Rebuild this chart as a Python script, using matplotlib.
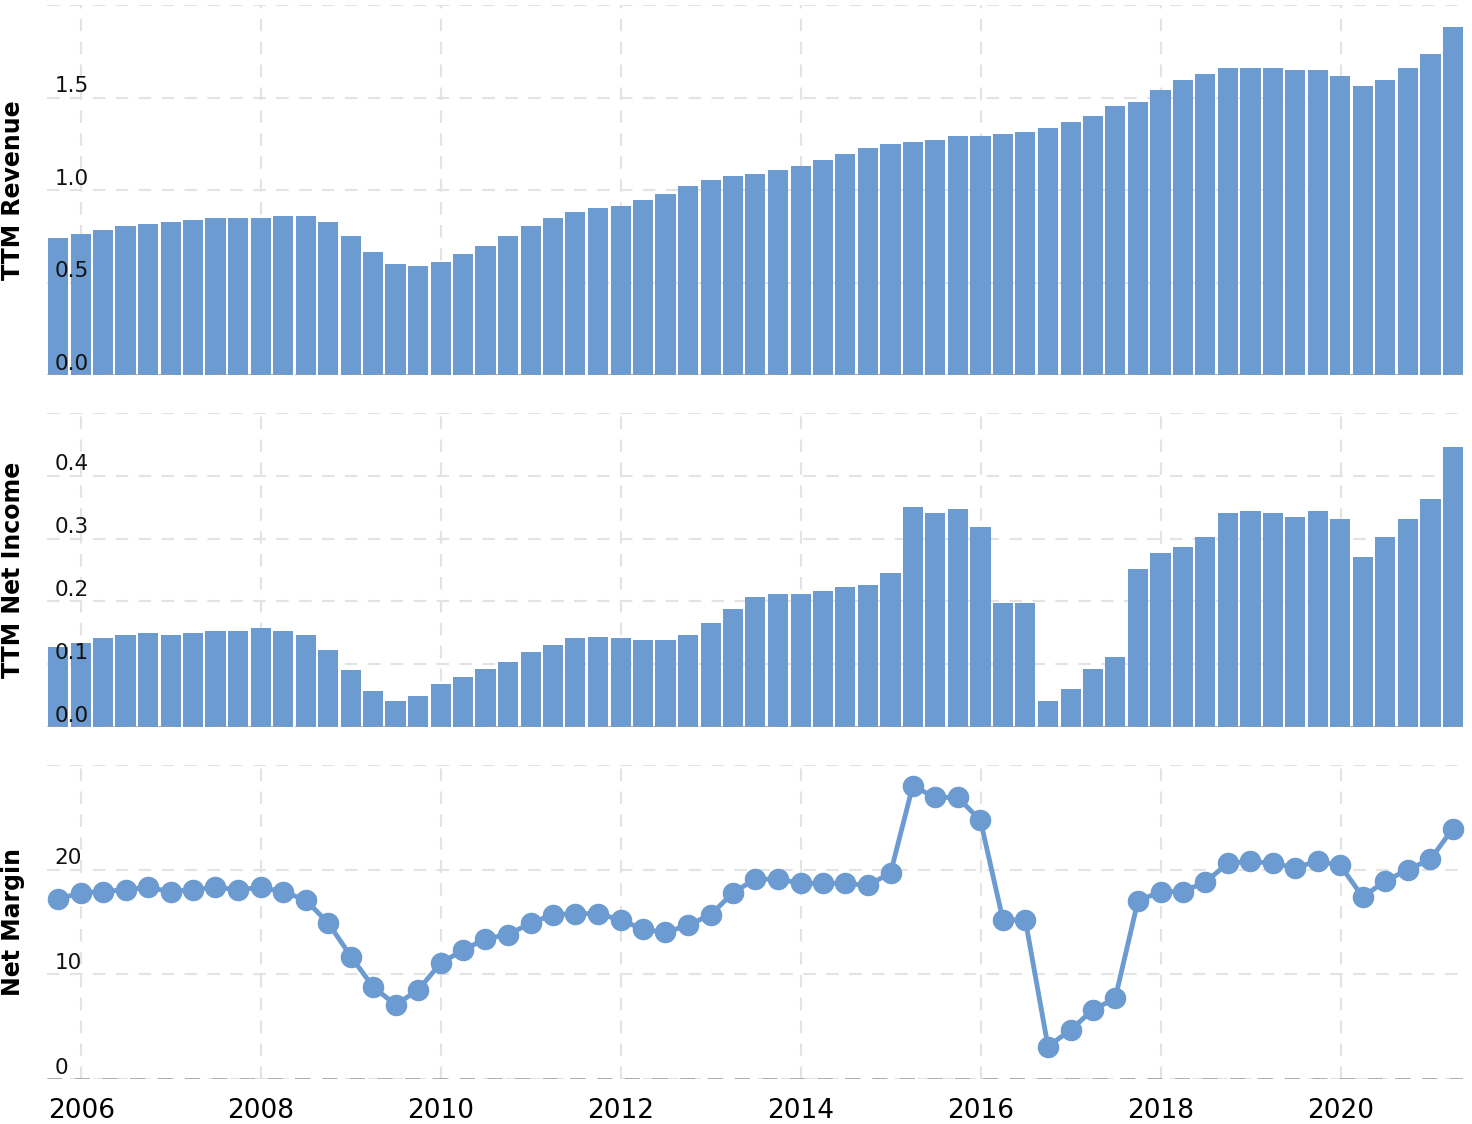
import matplotlib
matplotlib.use("Agg")
import matplotlib.pyplot as plt
import matplotlib.transforms as mtransforms
import pandas as pd

# ---- data (quarterly, TTM) ----
quarters = pd.date_range(start="2005-09-30", periods=63, freq="QE")

revenue = [0.741, 0.762, 0.784, 0.805, 0.816, 0.827, 0.838, 0.849, 0.849, 0.849,
           0.859, 0.859, 0.827, 0.751, 0.665, 0.600, 0.589, 0.611, 0.654, 0.697,
           0.751, 0.805, 0.849, 0.881, 0.903, 0.914, 0.946, 0.978, 1.022, 1.054,
           1.076, 1.086, 1.108, 1.130, 1.162, 1.195, 1.227, 1.249, 1.259, 1.270,
           1.292, 1.292, 1.303, 1.314, 1.335, 1.368, 1.400, 1.454, 1.476, 1.541,
           1.595, 1.627, 1.659, 1.659, 1.659, 1.649, 1.649, 1.616, 1.562, 1.595,
           1.659, 1.735, 1.881]

net_income = [0.128, 0.134, 0.141, 0.147, 0.150, 0.147, 0.150, 0.153, 0.153, 0.157,
              0.153, 0.147, 0.122, 0.090, 0.058, 0.042, 0.049, 0.068, 0.080, 0.093,
              0.103, 0.119, 0.131, 0.141, 0.144, 0.141, 0.138, 0.138, 0.147, 0.166,
              0.188, 0.207, 0.211, 0.211, 0.217, 0.223, 0.226, 0.246, 0.350, 0.341,
              0.347, 0.319, 0.198, 0.198, 0.042, 0.061, 0.093, 0.112, 0.252, 0.277,
              0.287, 0.303, 0.341, 0.344, 0.341, 0.334, 0.344, 0.331, 0.271, 0.303,
              0.331, 0.363, 0.446]

net_margin = [17.2, 17.8, 17.9, 18.1, 18.3, 17.9, 18.1, 18.3, 18.1, 18.3,
              17.9, 17.1, 14.9, 11.7, 8.8, 7.1, 8.5, 11.1, 12.3, 13.4,
              13.8, 14.9, 15.7, 15.8, 15.8, 15.2, 14.3, 14.0, 14.7, 15.7,
              17.8, 19.1, 19.1, 18.7, 18.7, 18.7, 18.5, 19.7, 28.0, 26.9,
              26.9, 24.7, 15.2, 15.2, 3.1, 4.7, 6.6, 7.7, 17.0, 17.9,
              17.9, 18.8, 20.6, 20.8, 20.6, 20.2, 20.8, 20.4, 17.4, 18.9,
              20.0, 21.0, 23.9]

year_ticks = [2006, 2008, 2010, 2012, 2014, 2016, 2018, 2020]

rev_ticks = [0.0, 0.5, 1.0, 1.5, 2.0]
rev_labels = ["0.0", "0.5", "1.0", "1.5", ""]
ni_ticks = [0.0, 0.1, 0.2, 0.3, 0.4, 0.5]
ni_labels = ["0.0", "0.1", "0.2", "0.3", "0.4", ""]
nm_ticks = [0, 10, 20, 30]
nm_labels = ["0", "10", "20", ""]

# ---- styling ----
COLOR = "#6b9bd1"
GRID = "#e3e3e3"
W, H = 1472, 1124
fig = plt.figure(figsize=(W / 100, H / 100), dpi=100)

left = 47 / W
width = (1463 - 47) / W


def make_ax(top_px, bottom_px):
    return fig.add_axes([left, 1 - bottom_px / H, width, (bottom_px - top_px) / H])


ax1 = make_ax(5, 375)
ax2 = make_ax(413, 727)
ax3 = make_ax(765, 1079)

xmin = pd.Timestamp("2005-08-15")
xmax = pd.Timestamp("2021-05-12")

ax1.bar(quarters, revenue, width=82, color=COLOR, zorder=2)
ax2.bar(quarters, net_income, width=82, color=COLOR, zorder=2)
ax3.plot(quarters, net_margin, color=COLOR, lw=3.5, marker="o", markersize=14.5,
         zorder=3, clip_on=False)

setups = [
    (ax1, rev_ticks, rev_labels, "TTM Revenue"),
    (ax2, ni_ticks, ni_labels, "TTM Net Income"),
    (ax3, nm_ticks, nm_labels, "Net Margin"),
]

for ax, ticks, labels, ylabel in setups:
    ax.set_xlim(xmin, xmax)
    ax.set_ylim(ticks[0], ticks[-1])
    ax.set_yticks(ticks)
    ax.set_yticklabels([])
    ax.set_xticks([pd.Timestamp(f"{y}-01-01") for y in year_ticks])
    for s in ax.spines.values():
        s.set_visible(False)
    ax.grid(True, color=GRID, linestyle=(0, (6, 5)), linewidth=1.5, zorder=0)
    ax.axhline(0, color="#9a9a9a", linestyle=(0, (6, 5)), linewidth=1.8, zorder=4)
    ax.tick_params(axis="both", length=0)
    trans = mtransforms.blended_transform_factory(ax.transAxes, ax.transData)
    off = mtransforms.offset_copy(trans, fig=fig, x=5.5, y=1, units="points")
    for t, lab in zip(ticks, labels):
        if lab:
            ax.text(0.0, t, lab, transform=off, ha="left", va="bottom",
                    fontsize=15.5, color="#111111", zorder=6)
    ax.set_ylabel(ylabel, fontsize=17, fontweight="bold")
    ax.yaxis.set_label_coords(-22 / (W * width), 0.5)

for ax in (ax1, ax2):
    ax.set_xticklabels([])

ax3.set_xticklabels([str(y) for y in year_ticks])
ax3.tick_params(axis="x", labelsize=19, pad=14)

fig.savefig("out.png", dpi=100)
